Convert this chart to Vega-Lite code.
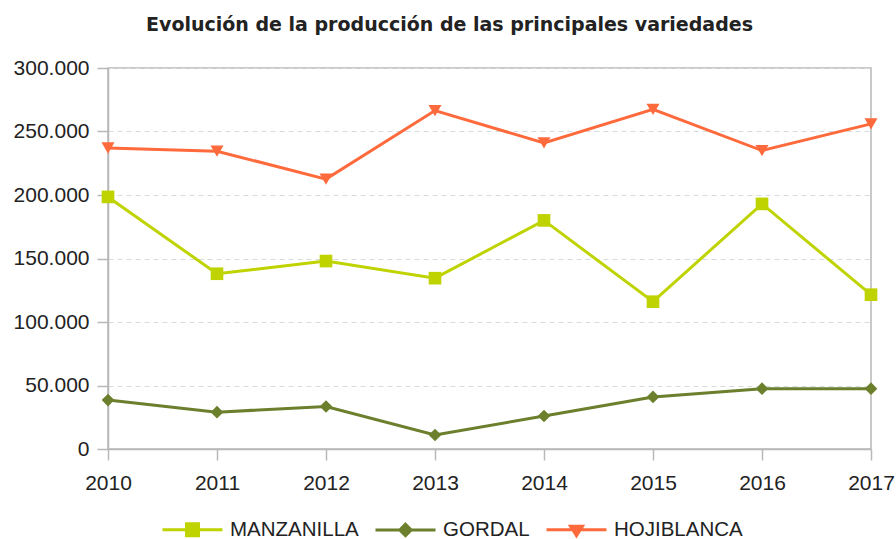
{
  "$schema": "https://vega.github.io/schema/vega-lite/v6.json",
  "width": 763,
  "height": 381,
  "autosize": {"type": "none"},
  "padding": {"left": 108, "top": 68, "right": 25, "bottom": 90},
  "background": "white",
  "config": {
    "locale": {"number": {"decimal": ",", "thousands": ".", "grouping": [3], "currency": ["", " €"]}},
    "font": "Liberation Sans",
    "view": {"stroke": "#b8b8b8", "strokeWidth": 1.5},
    "axis": {
      "labelFont": "Liberation Sans",
      "labelFontSize": 21,
      "labelColor": "#222222",
      "domainColor": "#b8b8b8",
      "domainWidth": 1.5,
      "tickColor": "#b8b8b8",
      "tickWidth": 1.5,
      "tickSize": 11,
      "title": null
    }
  },
  "title": {
    "text": "Evolución de la producción de las principales variedades",
    "font": "DejaVu Sans",
    "fontSize": 19,
    "fontWeight": "bold",
    "color": "#222222",
    "anchor": "middle",
    "dx": -40,
    "offset": 22
  },
  "data": {
    "values": [
      {"year": "2010", "serie": "MANZANILLA", "valor": 198500},
      {"year": "2011", "serie": "MANZANILLA", "valor": 138000},
      {"year": "2012", "serie": "MANZANILLA", "valor": 148000},
      {"year": "2013", "serie": "MANZANILLA", "valor": 134500},
      {"year": "2014", "serie": "MANZANILLA", "valor": 180000},
      {"year": "2015", "serie": "MANZANILLA", "valor": 116000},
      {"year": "2016", "serie": "MANZANILLA", "valor": 193000},
      {"year": "2017", "serie": "MANZANILLA", "valor": 121500},
      {"year": "2010", "serie": "GORDAL", "valor": 38500},
      {"year": "2011", "serie": "GORDAL", "valor": 29000},
      {"year": "2012", "serie": "GORDAL", "valor": 33500},
      {"year": "2013", "serie": "GORDAL", "valor": 11000},
      {"year": "2014", "serie": "GORDAL", "valor": 26000},
      {"year": "2015", "serie": "GORDAL", "valor": 41000},
      {"year": "2016", "serie": "GORDAL", "valor": 47500},
      {"year": "2017", "serie": "GORDAL", "valor": 47500},
      {"year": "2010", "serie": "HOJIBLANCA", "valor": 237000},
      {"year": "2011", "serie": "HOJIBLANCA", "valor": 234500},
      {"year": "2012", "serie": "HOJIBLANCA", "valor": 212500},
      {"year": "2013", "serie": "HOJIBLANCA", "valor": 266500},
      {"year": "2014", "serie": "HOJIBLANCA", "valor": 241000},
      {"year": "2015", "serie": "HOJIBLANCA", "valor": 267500},
      {"year": "2016", "serie": "HOJIBLANCA", "valor": 235000},
      {"year": "2017", "serie": "HOJIBLANCA", "valor": 256000}
    ]
  },
  "encoding": {
    "x": {
      "field": "year",
      "type": "ordinal",
      "scale": {"type": "point", "padding": 0},
      "axis": {"labelAngle": 0, "labelPadding": 12, "grid": false}
    },
    "y": {
      "field": "valor",
      "type": "quantitative",
      "scale": {"domain": [0, 300000], "nice": false},
      "axis": {
        "values": [0, 50000, 100000, 150000, 200000, 250000, 300000],
        "format": ",d",
        "labelPadding": 8,
        "grid": true,
        "gridColor": "#d5dcdc",
        "gridDash": [5, 4],
        "gridWidth": 1.2
      }
    }
  },
  "layer": [
    {
      "mark": {"type": "line", "strokeWidth": 3, "color": "#bfd300"},
      "transform": [{"filter": "datum.serie === 'MANZANILLA'"}]
    },
    {
      "mark": {"type": "line", "strokeWidth": 3, "color": "#6b7f2c"},
      "transform": [{"filter": "datum.serie === 'GORDAL'"}]
    },
    {
      "mark": {"type": "line", "strokeWidth": 3, "color": "#ff6a3c"},
      "transform": [{"filter": "datum.serie === 'HOJIBLANCA'"}]
    },
    {
      "transform": [{"filter": "datum.serie === 'MANZANILLA'"}],
      "mark": {"type": "point", "filled": true, "opacity": 1, "size": 160, "shape": "square", "color": "#bfd300"}
    },
    {
      "transform": [{"filter": "datum.serie === 'GORDAL'"}],
      "mark": {"type": "point", "filled": true, "opacity": 1, "size": 160, "shape": "diamond", "color": "#6b7f2c"}
    },
    {
      "transform": [{"filter": "datum.serie === 'HOJIBLANCA'"}],
      "mark": {"type": "point", "filled": true, "opacity": 1, "size": 170, "shape": "triangle-down", "color": "#ff6a3c"}
    },
    {
      "mark": {"type": "point", "filled": false, "strokeOpacity": 0, "fillOpacity": 0, "strokeWidth": 3, "size": 100},
      "encoding": {
        "color": {
          "field": "serie",
          "type": "nominal",
          "scale": {
            "domain": ["MANZANILLA", "GORDAL", "HOJIBLANCA"],
            "range": ["#bfd300", "#6b7f2c", "#ff6a3c"]
          },
          "legend": {
            "title": null,
            "orient": "none",
            "legendX": 53,
            "legendY": 430,
            "direction": "horizontal",
            "labelFont": "Liberation Sans",
            "labelFontSize": 20.5,
            "labelColor": "#222222",
            "symbolSize": 3600,
            "symbolStrokeWidth": 3,
            "symbolOpacity": 1,
            "labelOffset": 6,
            "columnPadding": 10
          }
        },
        "shape": {
          "field": "serie",
          "type": "nominal",
          "scale": {
            "domain": ["MANZANILLA", "GORDAL", "HOJIBLANCA"],
            "range": [
              "M-1,0H1M-0.2,-0.2H0.2V0.2H-0.2ZM-0.2,-0.1H0.2M-0.2,0.1H0.2",
              "M-1,0H1M0,-0.19L0.19,0L0,0.19L-0.19,0ZM-0.095,-0.095H0.095M-0.095,0.095H0.095",
              "M-1,0H1M-0.2,-0.12H0.2L0,0.2ZM-0.14,-0.02H0.14M-0.07,0.09H0.07"
            ]
          },
          "legend": {
            "title": null,
            "orient": "none",
            "legendX": 53,
            "legendY": 430,
            "direction": "horizontal",
            "labelFont": "Liberation Sans",
            "labelFontSize": 20.5,
            "labelColor": "#222222",
            "symbolSize": 3600,
            "symbolStrokeWidth": 3,
            "symbolOpacity": 1,
            "labelOffset": 6,
            "columnPadding": 10
          }
        }
      }
    }
  ]
}
